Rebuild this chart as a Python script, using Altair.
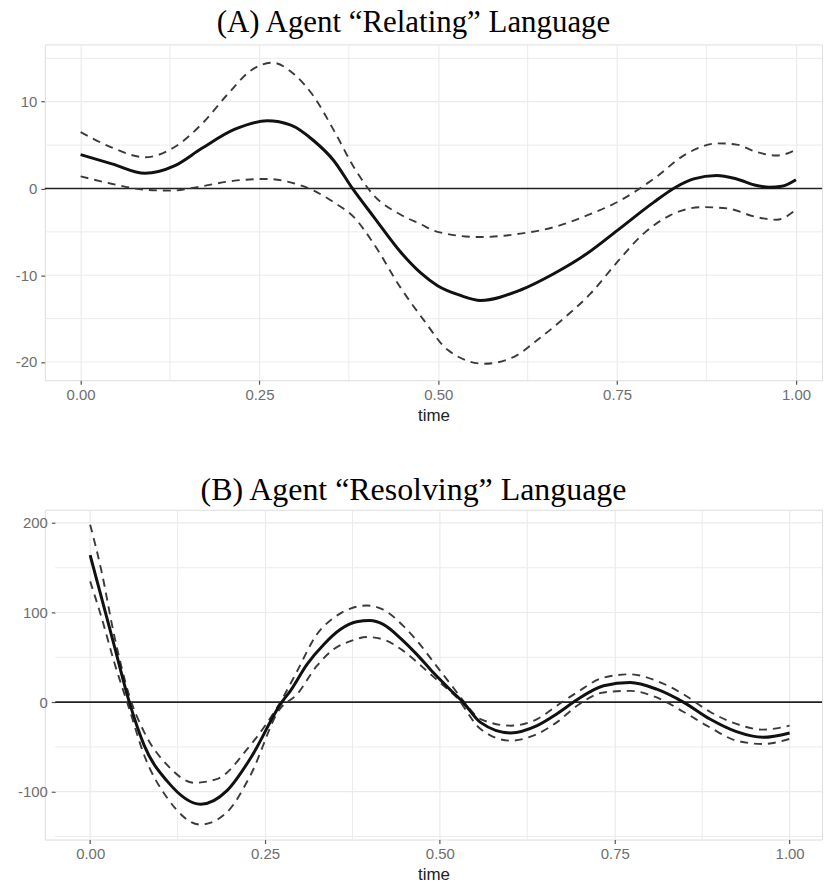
import altair as alt
import pandas as pd

# ---- Panel A: Agent "Relating" language (estimate with upper / lower band) ----
a_mean_t = [0.0, 0.045, 0.09, 0.131, 0.169, 0.215, 0.261, 0.294, 0.326, 0.354, 0.38, 0.41,
            0.447, 0.475, 0.499, 0.53, 0.559, 0.615, 0.662, 0.708, 0.754, 0.801, 0.833,
            0.857, 0.889, 0.917, 0.945, 0.963, 0.98, 1.0]
a_mean_v = [3.9, 2.8, 1.75, 2.6, 4.6, 6.8, 7.8, 7.3, 5.5, 3.2, 0.0, -3.3,
            -7.3, -9.7, -11.2, -12.3, -12.9, -11.7, -9.8, -7.5, -4.6, -1.6, 0.2,
            1.1, 1.5, 1.1, 0.35, 0.15, 0.25, 1.0]

a_upper_t = [0.0, 0.043, 0.09, 0.131, 0.169, 0.206, 0.238, 0.268, 0.298, 0.326, 0.354, 0.382,
             0.41, 0.447, 0.475, 0.499, 0.559, 0.615, 0.662, 0.708, 0.754, 0.801, 0.847,
             0.891, 0.917, 0.945, 0.973, 1.0]
a_upper_v = [6.5, 4.75, 3.6, 4.75, 7.4, 10.9, 13.6, 14.5, 13.2, 10.6, 6.7, 2.45,
             -0.8, -3.0, -4.1, -5.0, -5.6, -5.2, -4.45, -3.1, -1.4, 1.1, 4.0,
             5.2, 5.06, 4.2, 3.8, 4.45]

a_lower_t = [0.0, 0.043, 0.09, 0.126, 0.169, 0.215, 0.261, 0.298, 0.326, 0.354, 0.382, 0.41,
             0.447, 0.48, 0.513, 0.564, 0.606, 0.638, 0.675, 0.713, 0.75, 0.787, 0.824,
             0.87, 0.904, 0.945, 0.973, 1.0]
a_lower_v = [1.4, 0.55, -0.15, -0.25, 0.25, 0.9, 1.1, 0.6, -0.25, -1.6, -3.3, -6.4,
             -11.4, -15.2, -18.6, -20.2, -19.4, -17.5, -15.0, -12.1, -8.5, -5.2, -3.1,
             -2.15, -2.3, -3.3, -3.6, -2.45]

# ---- Panel B: Agent "Resolving" language ----
b_mean_t = [0.0, 0.0157, 0.0346, 0.056, 0.0774, 0.111, 0.158, 0.196, 0.229, 0.274, 0.2863,
            0.31, 0.334, 0.3575, 0.381, 0.40, 0.419, 0.443, 0.467, 0.4905, 0.514, 0.533,
            0.558, 0.601, 0.639, 0.667, 0.696, 0.734, 0.772, 0.81, 0.848, 0.886, 0.924,
            0.962, 1.0]
b_mean_v = [164, 118, 62.6, 0, -48.5, -89, -114, -98.5, -63, 0, 12.6,
            42.2, 64.4, 81, 89.6, 91, 86.7, 71.8, 53.3, 33, 14.4, 0,
            -22.6, -34.4, -26.3, -13.3, 2.6, 18.2, 21.9, 14.4, 0, -18.9, -33,
            -39.3, -34.4]

b_upper_t = [0.0, 0.0157, 0.0346, 0.056, 0.0774, 0.111, 0.149, 0.182, 0.225, 0.277, 0.296,
             0.324, 0.348, 0.372, 0.3956, 0.419, 0.448, 0.4715, 0.495, 0.519, 0.535, 0.558,
             0.601, 0.639, 0.667, 0.696, 0.734, 0.772, 0.81, 0.848, 0.886, 0.924, 0.962, 1.0]
b_upper_v = [198, 148, 73.7, 7, -33.7, -70.8, -90, -85.6, -52, 7, 34.8,
             75.5, 94, 104.4, 107.8, 103.3, 84.8, 64.4, 40.4, 16.3, 0, -18.9,
             -26.3, -18.9, -4.1, 10.8, 27.4, 31, 23.7, 8.9, -10.7, -24.4, -30.7, -26.3]

b_lower_t = [0.0, 0.0157, 0.0346, 0.056, 0.0774, 0.111, 0.158, 0.196, 0.229, 0.271, 0.296,
             0.324, 0.348, 0.372, 0.3956, 0.419, 0.448, 0.476, 0.50, 0.524, 0.558,
             0.601, 0.639, 0.667, 0.696, 0.734, 0.772, 0.81, 0.848, 0.886, 0.924, 0.962, 1.0]
b_lower_v = [134.8, 95.9, 44, -7.8, -59.6, -107.8, -136.7, -122.6, -81.9, -7.8, 8.9,
             40.4, 58.9, 68.1, 72.6, 70, 57, 38.5, 21.9, 5.2, -30,
             -43, -35.6, -22.6, -4.1, 10.8, 12.6, 5.2, -10.7, -28.2, -43, -46.7, -41.1]

# axis breaks
x_major = [0.0, 0.25, 0.5, 0.75, 1.0]
x_minor = [0.125, 0.375, 0.625, 0.875]
a_y_major = [-20, -10, 0, 10]
a_y_minor = [-15, -5, 5, 15]
b_y_major = [-100, 0, 100, 200]
b_y_minor = [-150, -50, 50, 150]
zero_line = [0]

GRID = "#ebebeb"
LABEL = "#6e6e6e"
SANS = "Liberation Sans"
SERIF = "Liberation Serif"
# plain hyphen for negative tick labels
HYPHEN_LABEL = "datum.value < 0 ? '-' + format(-datum.value, 'd') : format(datum.value, 'd')"


def panel(title, title_size, title_offset, mean, upper, lower, x_domain, x_panel_start,
          y_domain, y_major, y_minor, y_axis_offset, width, height):
    x_scale = alt.Scale(domain=x_domain, nice=False, zero=False)
    y_scale = alt.Scale(domain=y_domain, nice=False, zero=False)

    x_axis = alt.Axis(values=x_major, format=".2f", title="time", grid=True,
                      gridColor=GRID, gridWidth=1.2, domain=False,
                      tickColor="#555555", tickSize=4, tickWidth=1.2,
                      labelFont=SANS, labelFontSize=15, labelColor=LABEL, labelPadding=3,
                      titleFont=SANS, titleFontSize=17, titleFontWeight="normal",
                      titleColor="#222222", titlePadding=5)
    y_axis = alt.Axis(values=y_major, labelExpr=HYPHEN_LABEL, title=None, grid=False,
                      domain=False, offset=y_axis_offset,
                      tickColor="#555555", tickSize=4, tickWidth=1.2,
                      labelFont=SANS, labelFontSize=15, labelColor=LABEL, labelPadding=4)

    # vertical minor grid lines
    vminor = alt.Chart(pd.DataFrame({"t": x_minor})).mark_rule(
        color=GRID, strokeWidth=1.0).encode(x=alt.X("t:Q", scale=x_scale, axis=x_axis))

    # horizontal grid lines span the panel (from its left limit to the right edge)
    hgrid_df = pd.DataFrame({"v": y_major + y_minor,
                             "kind": ["major"] * len(y_major) + ["minor"] * len(y_minor)})
    hgrid_df["t0"] = x_panel_start
    hgrid_df["t1"] = x_domain[1]
    hgrid = alt.Chart(hgrid_df).mark_rule(color=GRID).encode(
        y=alt.Y("v:Q", scale=y_scale, axis=y_axis),
        x=alt.X("t0:Q", scale=x_scale),
        x2="t1:Q",
        strokeWidth=alt.StrokeWidth("kind:N", scale=alt.Scale(domain=["major", "minor"],
                                                               range=[1.2, 1.0]),
                                    legend=None),
    )

    zero_df = pd.DataFrame({"v": zero_line})
    zero_df["t0"] = x_panel_start
    zero_df["t1"] = x_domain[1]
    zero = alt.Chart(zero_df).mark_rule(color="#222222", strokeWidth=1.6).encode(
        y=alt.Y("v:Q", scale=y_scale), x=alt.X("t0:Q", scale=x_scale), x2="t1:Q")

    def curve(tv, dashed):
        df = pd.DataFrame({"t": tv[0], "v": tv[1]})
        if dashed:
            mk = alt.Chart(df).mark_line(color="#3a3a3a", strokeWidth=1.9,
                                         strokeDash=[8, 6], interpolate="monotone")
        else:
            mk = alt.Chart(df).mark_line(color="#111111", strokeWidth=3,
                                         interpolate="monotone")
        return mk.encode(x=alt.X("t:Q", scale=x_scale),
                         y=alt.Y("v:Q", scale=y_scale))

    return alt.layer(
        vminor, hgrid, zero,
        curve(upper, True), curve(lower, True), curve(mean, False),
    ).properties(
        width=width, height=height,
        title=alt.TitleParams(title, font=SERIF, fontSize=title_size, fontWeight="normal",
                              color="black", anchor="middle", dx=-20,
                              baseline="alphabetic", offset=title_offset),
    )


panel_a = panel("(A) Agent “Relating” Language", 31, -19.5,
                (a_mean_t, a_mean_v), (a_upper_t, a_upper_v), (a_lower_t, a_lower_v),
                [-0.05, 1.0364], -0.05,
                [-22.1, 16.6], a_y_major, a_y_minor, 0, 780, 337)
panel_b = panel("(B) Agent “Resolving” Language", 32, -23,
                (b_mean_t, b_mean_v), (b_upper_t, b_upper_v), (b_lower_t, b_lower_v),
                [-0.0648, 1.0463], -0.05,
                [-153.4, 214.7], b_y_major, b_y_minor, -10.5, 780, 331)

chart = alt.concat(panel_a, panel_b, columns=1, spacing=50).properties(
    padding={"left": 14, "top": 5, "right": 0, "bottom": 0},
).resolve_scale(strokeWidth="independent").configure_view(stroke=None).configure(
    background="white")

chart.save("out.html", embed_options={"renderer": "svg", "actions": False})
